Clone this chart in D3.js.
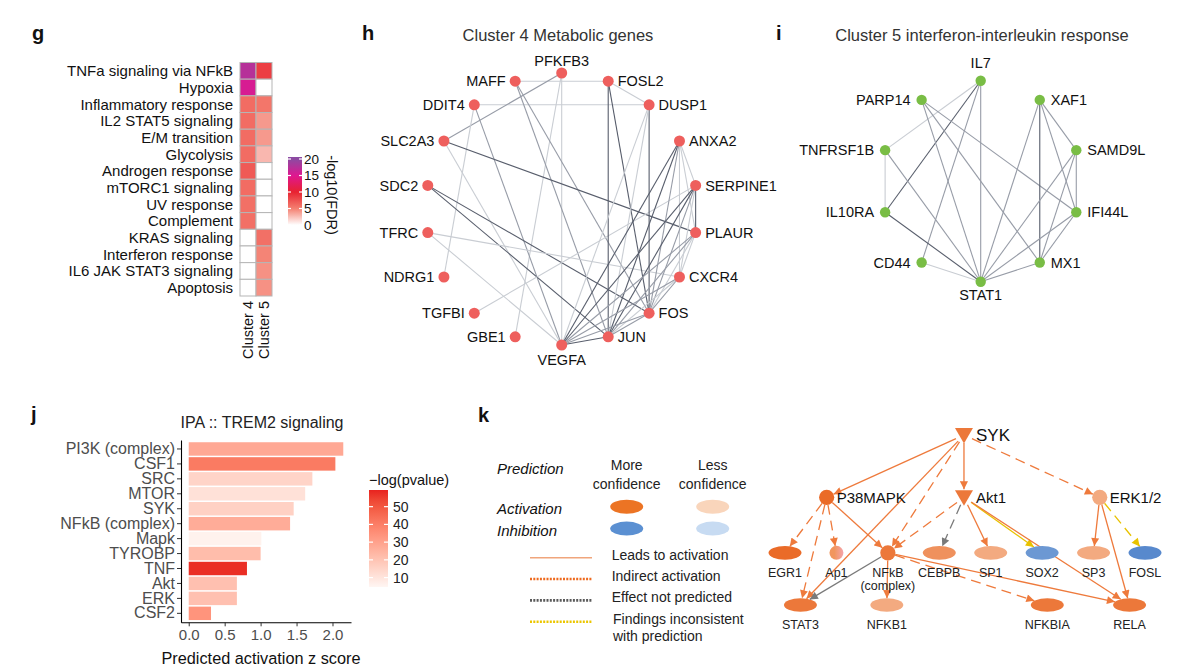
<!DOCTYPE html>
<html>
<head>
<meta charset="utf-8">
<script src="https://cdn.jsdelivr.net/npm/d3@7"></script>
<style>
  body { margin: 0; background: #ffffff; }
  svg text { font-family: "Liberation Sans", Arial, Helvetica, sans-serif; }
</style>
</head>
<body>
<div id="figure"></div>
<script>
// ---------------- data ----------------
// panel g: hallmark enrichment
var pathways = ["TNFa signaling via NFkB", "Hypoxia", "Inflammatory response", "IL2 STAT5 signaling",
  "E/M transition", "Glycolysis", "Androgen response", "mTORC1 signaling", "UV response", "Complement",
  "KRAS signaling", "Interferon response", "IL6 JAK STAT3 signaling", "Apoptosis"];
var clusters = ["Cluster 4", "Cluster 5"];
var fdrCluster4 = [17.5, 15.5, 6, 6, 6, 6, 7, 6, 5.8, 5.8, 0, 0, 0, 0];
var fdrCluster5 = [8.5, 0, 5.5, 4, 4, 2.8, 0, 0, 0, 0, 5.8, 4.8, 4.3, 4.3];
var fdrTicks = [0, 5, 10, 15, 20];

// panel h: cluster 4 network (clockwise from top)
var metabolicGenes = ["PFKFB3", "FOSL2", "DUSP1", "ANXA2", "SERPINE1", "PLAUR", "CXCR4", "FOS", "JUN",
  "VEGFA", "GBE1", "TGFBI", "NDRG1", "TFRC", "SDC2", "SLC2A3", "DDIT4", "MAFF"];
var metabolicEdges = [
  ["MAFF", "FOSL2", 1], ["DDIT4", "DUSP1", 1], ["FOSL2", "DUSP1", 1], ["PFKFB3", "SLC2A3", 2],
  ["PFKFB3", "VEGFA", 1], ["PFKFB3", "GBE1", 1], ["MAFF", "JUN", 2], ["MAFF", "FOS", 2],
  ["DDIT4", "NDRG1", 1], ["DDIT4", "VEGFA", 2], ["SLC2A3", "PLAUR", 3], ["SLC2A3", "VEGFA", 1],
  ["SDC2", "FOS", 3], ["SDC2", "JUN", 3], ["TFRC", "CXCR4", 1], ["TFRC", "VEGFA", 1],
  ["TGFBI", "SERPINE1", 1], ["FOSL2", "JUN", 3], ["FOSL2", "FOS", 3], ["DUSP1", "FOS", 3],
  ["DUSP1", "VEGFA", 1], ["DUSP1", "JUN", 1], ["ANXA2", "SERPINE1", 1], ["ANXA2", "PLAUR", 1],
  ["ANXA2", "CXCR4", 1], ["ANXA2", "JUN", 3], ["ANXA2", "VEGFA", 3], ["ANXA2", "FOS", 2],
  ["SERPINE1", "PLAUR", 3], ["SERPINE1", "CXCR4", 1], ["SERPINE1", "FOS", 2], ["SERPINE1", "JUN", 3],
  ["SERPINE1", "VEGFA", 3], ["PLAUR", "CXCR4", 1], ["PLAUR", "FOS", 1], ["PLAUR", "JUN", 2],
  ["PLAUR", "VEGFA", 2], ["CXCR4", "FOS", 2], ["CXCR4", "JUN", 1], ["CXCR4", "VEGFA", 2],
  ["FOS", "JUN", 2], ["FOS", "VEGFA", 2], ["JUN", "VEGFA", 3]
];

// panel i: cluster 5 network (clockwise from top)
var immuneGenes = ["IL7", "XAF1", "SAMD9L", "IFI44L", "MX1", "STAT1", "CD44", "IL10RA", "TNFRSF1B", "PARP14"];
var immuneEdges = [
  ["IL7", "TNFRSF1B", 1], ["IL7", "IL10RA", 3], ["IL7", "CD44", 2], ["IL7", "STAT1", 2],
  ["PARP14", "STAT1", 2], ["PARP14", "MX1", 2], ["PARP14", "IFI44L", 2], ["TNFRSF1B", "IL10RA", 1],
  ["TNFRSF1B", "STAT1", 2], ["IL10RA", "STAT1", 3], ["CD44", "STAT1", 1], ["XAF1", "STAT1", 2],
  ["XAF1", "MX1", 3], ["XAF1", "SAMD9L", 2], ["XAF1", "IFI44L", 2], ["SAMD9L", "STAT1", 2],
  ["SAMD9L", "MX1", 2], ["SAMD9L", "IFI44L", 2], ["IFI44L", "STAT1", 2], ["IFI44L", "MX1", 2],
  ["MX1", "STAT1", 2]
];

// panel j: IPA upstream regulators
var regulators = ["PI3K (complex)", "CSF1", "SRC", "MTOR", "SYK", "NFkB (complex)", "Mapk", "TYROBP",
  "TNF", "Akt", "ERK", "CSF2"];
var zScores = [2.15, 2.04, 1.72, 1.62, 1.46, 1.41, 1.01, 1.0, 0.81, 0.67, 0.67, 0.31];
var logP = [28, 41, 15, 11, 16, 27, 6, 22, 58, 21, 21, 34];
var zTicks = [0, 0.5, 1, 1.5, 2];
var logPTicks = [10, 20, 30, 40, 50];

// panel k: legend and SYK pathway
var legendCols = ["More confidence", "Less confidence"];
var legendRows = ["Activation", "Inhibition"];
var edgeTypes = ["Leads to activation", "Indirect activation", "Effect not predicted",
  "Findings inconsistent with prediction"];
var pathwayNodes = ["SYK", "P38MAPK", "Akt1", "ERK1/2", "EGR1", "Ap1", "NFkB (complex)", "CEBPB",
  "SP1", "SOX2", "SP3", "FOSL", "STAT3", "NFKB1", "NFKBIA", "RELA"];
var pathwayShape = ["triangle", "circle", "triangle", "circle", "ellipse", "circle", "circle", "ellipse",
  "ellipse", "ellipse", "ellipse", "ellipse", "ellipse", "ellipse", "ellipse", "ellipse"];
// signed prediction strength: >0 activation, <0 inhibition
var pathwayScore = [0.85, 0.95, 0.85, 0.45, 0.95, 0.5, 0.85, 0.65, 0.45, -0.75, 0.45, -0.9, 0.85, 0.45, 0.85, 0.85];
var pathwayLevel = [0, 1.1, 1.1, 1.1, 2.08, 2.08, 2.08, 2.08, 2.08, 2.08, 2.08, 2.08, 3, 3, 3, 3];
var pathwaySlot = [3.48, 0.81, 3.48, 6.12, 0, 1, 2, 3, 4, 5, 6, 7, 0.3, 1.98, 5.1, 6.7];
var pathwayEdges = [
  ["SYK", "P38MAPK", "activation", false], ["SYK", "STAT3", "activation", false],
  ["SYK", "NFkB (complex)", "activation", true], ["SYK", "Akt1", "activation", false],
  ["SYK", "ERK1/2", "activation", true], ["P38MAPK", "EGR1", "activation", true],
  ["P38MAPK", "Ap1", "activation", true], ["P38MAPK", "STAT3", "activation", true],
  ["P38MAPK", "NFkB (complex)", "activation", false], ["Akt1", "NFkB (complex)", "activation", true],
  ["Akt1", "CEBPB", "unpredicted", true], ["Akt1", "SP1", "activation", false],
  ["Akt1", "SOX2", "inconsistent", false], ["Akt1", "RELA", "activation", false],
  ["ERK1/2", "SP3", "activation", false], ["ERK1/2", "RELA", "activation", false],
  ["ERK1/2", "FOSL", "inconsistent", true], ["NFkB (complex)", "STAT3", "unpredicted", false],
  ["NFkB (complex)", "NFKB1", "activation", false], ["NFkB (complex)", "NFKBIA", "activation", true],
  ["NFkB (complex)", "RELA", "activation", false]
];

// ---------------- svg ----------------
var svgWidth = 1200;
var svgHeight = 671;

var svg = d3.select("#figure")
  .append("svg")
  .attr("width", svgWidth)
  .attr("height", svgHeight);

var defs = svg.append("defs");

// panel letters
var letters = [["g", 32, 40], ["h", 362, 40], ["i", 776, 40], ["j", 31, 421], ["k", 478, 422]];
svg.selectAll("text.letter")
  .data(letters)
  .enter()
  .append("text")
  .attr("class", "letter")
  .attr("x", d => d[1])
  .attr("y", d => d[2])
  .attr("font-size", 20)
  .attr("font-weight", "bold")
  .attr("fill", "#111")
  .text(d => d[0]);

// ---------------- panel g ----------------
var gPanel = svg.append("g");
var gx = d3.scaleBand().domain(clusters).range([240, 272]);
var gy = d3.scaleBand().domain(pathways).range([62.5, 296]);
var fdrColor = d3.scaleLinear()
  .domain(fdrTicks)
  .range(["#ffffff", "#f47f70", "#e82230", "#df1790", "#8c4aa2"])
  .clamp(true);

var cells = [];
pathways.forEach(function (p, i) {
  cells.push({ pathway: p, cluster: clusters[0], value: fdrCluster4[i] });
  cells.push({ pathway: p, cluster: clusters[1], value: fdrCluster5[i] });
});

gPanel.selectAll("rect.cell")
  .data(cells)
  .enter()
  .append("rect")
  .attr("x", d => gx(d.cluster))
  .attr("y", d => gy(d.pathway))
  .attr("width", gx.bandwidth())
  .attr("height", gy.bandwidth())
  .attr("fill", d => fdrColor(d.value))
  .attr("stroke", "#b5b5b5")
  .attr("stroke-width", 1);

gPanel.selectAll("text.row")
  .data(pathways)
  .enter()
  .append("text")
  .attr("x", 233)
  .attr("y", d => gy(d) + gy.bandwidth() / 2)
  .attr("dy", "0.36em")
  .attr("text-anchor", "end")
  .attr("font-size", 15)
  .attr("fill", "#111")
  .text(d => d);

gPanel.selectAll("text.col")
  .data(clusters)
  .enter()
  .append("text")
  .attr("transform", d => `translate(${gx(d) + gx.bandwidth() / 2}, 301) rotate(-90)`)
  .attr("dy", "0.36em")
  .attr("text-anchor", "end")
  .attr("font-size", 14.5)
  .attr("fill", "#111")
  .text(d => d);

// colour bar
var cbY = d3.scaleLinear().domain([0, 20]).range([225, 159]);
var cbGrad = defs.append("linearGradient")
  .attr("id", "fdrGrad")
  .attr("gradientUnits", "userSpaceOnUse")
  .attr("x1", 0).attr("x2", 0)
  .attr("y1", cbY(0)).attr("y2", cbY(20));
cbGrad.selectAll("stop")
  .data(d3.range(0, 20.01, 1))
  .enter()
  .append("stop")
  .attr("offset", d => d / 20)
  .attr("stop-color", d => fdrColor(d));

gPanel.append("rect")
  .attr("x", 288).attr("y", cbY(20) - 2)
  .attr("width", 14).attr("height", cbY(0) - cbY(20) + 4)
  .attr("fill", "url(#fdrGrad)");

fdrTicks.forEach(function (t) {
  gPanel.append("line").attr("x1", 288).attr("x2", 291).attr("y1", cbY(t)).attr("y2", cbY(t))
    .attr("stroke", "#fff").attr("stroke-width", 1.2);
  gPanel.append("line").attr("x1", 299).attr("x2", 302).attr("y1", cbY(t)).attr("y2", cbY(t))
    .attr("stroke", "#fff").attr("stroke-width", 1.2);
});

gPanel.selectAll("text.cb")
  .data(fdrTicks)
  .enter()
  .append("text")
  .attr("x", 304)
  .attr("y", d => cbY(d))
  .attr("dy", "0.36em")
  .attr("font-size", 13.5)
  .attr("fill", "#111")
  .text(d => d);

gPanel.append("text")
  .attr("transform", "translate(332, 195) rotate(90)")
  .attr("dy", "0.36em")
  .attr("text-anchor", "middle")
  .attr("font-size", 14.5)
  .attr("fill", "#111")
  .text("-log10(FDR)");

// ---------------- panels h and i: circular networks ----------------
var edgeShade = { 1: "#c9cdd3", 2: "#979ca7", 3: "#585e6c" };

function drawNetwork(genes, edges, cx, cy, radius, nodeColor, nodeR, sideOff, topOff, bottomOff) {
  var angle = d3.scaleLinear().domain([0, genes.length]).range([-Math.PI / 2, 1.5 * Math.PI]);
  var pos = {};
  genes.forEach(function (g, i) {
    var a = angle(i);
    pos[g] = { x: cx + radius * Math.cos(a), y: cy + radius * Math.sin(a), c: Math.cos(a), s: Math.sin(a) };
  });

  var net = svg.append("g");

  net.selectAll("line")
    .data(edges)
    .enter()
    .append("line")
    .attr("x1", d => pos[d[0]].x)
    .attr("y1", d => pos[d[0]].y)
    .attr("x2", d => pos[d[1]].x)
    .attr("y2", d => pos[d[1]].y)
    .attr("stroke", d => edgeShade[d[2]])
    .attr("stroke-width", 1.1);

  net.selectAll("circle")
    .data(genes)
    .enter()
    .append("circle")
    .attr("cx", d => pos[d].x)
    .attr("cy", d => pos[d].y)
    .attr("r", nodeR)
    .attr("fill", nodeColor);

  net.selectAll("text")
    .data(genes)
    .enter()
    .append("text")
    .attr("x", function (d) {
      var p = pos[d];
      if (p.c > 0.05) return p.x + sideOff;
      if (p.c < -0.05) return p.x - sideOff;
      return p.x;
    })
    .attr("y", function (d) {
      var p = pos[d];
      if (Math.abs(p.c) > 0.05) return p.y;
      return p.s < 0 ? p.y - topOff : p.y + bottomOff;
    })
    .attr("dy", "0.36em")
    .attr("text-anchor", function (d) {
      var p = pos[d];
      if (p.c > 0.05) return "start";
      if (p.c < -0.05) return "end";
      return "middle";
    })
    .attr("font-size", 14.5)
    .attr("fill", "#111")
    .text(d => d);
}

svg.append("text")
  .attr("x", 558).attr("y", 35).attr("dy", "0.36em")
  .attr("text-anchor", "middle").attr("font-size", 16.5).attr("fill", "#333")
  .text("Cluster 4 Metabolic genes");
drawNetwork(metabolicGenes, metabolicEdges, 561.7, 209, 136, "#ee5f5d", 5.5, 9.5, 12.5, 14.5);

svg.append("text")
  .attr("x", 982).attr("y", 35).attr("dy", "0.36em")
  .attr("text-anchor", "middle").attr("font-size", 16.5).attr("fill", "#333")
  .text("Cluster 5 interferon-interleukin response");
drawNetwork(immuneGenes, immuneEdges, 980.7, 181.2, 100.5, "#79bd45", 5.2, 11, 18, 13.5);

// ---------------- panel j: bar chart ----------------
var jPanel = svg.append("g");
var jx = d3.scaleLinear().domain([-0.1075, 2.2575]).range([181, 351]);
var jy = d3.scaleBand().domain(regulators).range([440, 622.3]).paddingInner(0.1).paddingOuter(0.15);
var jColor = d3.scaleLinear().domain([4.7, 59.4]).range(["#fff6f3", "#e8231f"])
  .interpolate(d3.interpolateLab);

jPanel.append("text")
  .attr("x", 262).attr("y", 422).attr("dy", "0.36em")
  .attr("text-anchor", "middle").attr("font-size", 16).attr("fill", "#222")
  .text("IPA :: TREM2 signaling");

jPanel.selectAll("rect.bar")
  .data(regulators)
  .enter()
  .append("rect")
  .attr("x", jx(0))
  .attr("y", d => jy(d))
  .attr("width", (d, i) => jx(zScores[i]) - jx(0))
  .attr("height", jy.bandwidth())
  .attr("fill", (d, i) => jColor(logP[i]));

var leftAxis = d3.axisLeft(jy).tickSizeInner(4).tickSizeOuter(0).tickPadding(2);
var bottomAxis = d3.axisBottom(jx).tickValues(zTicks).tickFormat(d3.format(".1f"))
  .tickSizeInner(4).tickSizeOuter(0).tickPadding(3);

var yAxisG = jPanel.append("g")
  .attr("transform", `translate(${jx.range()[0]}, 0)`)
  .call(leftAxis);
yAxisG.selectAll("text").attr("font-size", 16).attr("fill", "#4d4d4d");

var xAxisG = jPanel.append("g")
  .attr("transform", `translate(0, ${jy.range()[1]})`)
  .call(bottomAxis);
xAxisG.selectAll("text").attr("font-size", 15).attr("fill", "#4d4d4d");

[yAxisG, xAxisG].forEach(function (a) {
  a.select(".domain").attr("stroke", "#000").attr("stroke-width", 1.1);
  a.selectAll(".tick line").attr("stroke", "#333");
});

jPanel.append("text")
  .attr("x", 261).attr("y", 658).attr("dy", "0.36em")
  .attr("text-anchor", "middle").attr("font-size", 16.3).attr("fill", "#111")
  .text("Predicted activation z score");

// legend
var legY = d3.scaleLinear().domain([4.7, 59.4]).range([587, 490]);
var pGrad = defs.append("linearGradient")
  .attr("id", "pGrad")
  .attr("gradientUnits", "userSpaceOnUse")
  .attr("x1", 0).attr("x2", 0)
  .attr("y1", legY(4.7)).attr("y2", legY(59.4));
pGrad.selectAll("stop")
  .data(d3.range(0, 1.001, 0.1))
  .enter()
  .append("stop")
  .attr("offset", d => d)
  .attr("stop-color", d => jColor(4.7 + d * (59.4 - 4.7)));

jPanel.append("rect")
  .attr("x", 369).attr("y", legY(59.4))
  .attr("width", 19).attr("height", legY(4.7) - legY(59.4))
  .attr("fill", "url(#pGrad)");

logPTicks.forEach(function (t) {
  jPanel.append("line").attr("x1", 369).attr("x2", 373).attr("y1", legY(t)).attr("y2", legY(t))
    .attr("stroke", "#fff").attr("stroke-width", 1.2);
  jPanel.append("line").attr("x1", 384).attr("x2", 388).attr("y1", legY(t)).attr("y2", legY(t))
    .attr("stroke", "#fff").attr("stroke-width", 1.2);
});

jPanel.selectAll("text.leg")
  .data(logPTicks)
  .enter()
  .append("text")
  .attr("x", 393)
  .attr("y", d => legY(d))
  .attr("dy", "0.36em")
  .attr("font-size", 14)
  .attr("fill", "#222")
  .text(d => d);

jPanel.append("text")
  .attr("x", 369).attr("y", 480).attr("dy", "0.36em")
  .attr("font-size", 14.5).attr("fill", "#111")
  .text("\u2212log(pvalue)");

// ---------------- panel k: legend ----------------
var kPanel = svg.append("g");
var predColor = function (score) {
  if (score >= 0) return d3.interpolateRgb("#fbe2d0", "#e9651f")(score);
  return d3.interpolateRgb("#d2e2f5", "#4a7fc8")(-score);
};
var legendFill = [["#ec7424", "#f9d5bb"], ["#5b90d2", "#c7dbf2"]];

var legX = d3.scalePoint().domain(legendCols).range([626.7, 712.7]);
var legRowY = d3.scalePoint().domain(legendRows).range([506.7, 528.6]);

kPanel.append("text")
  .attr("x", 497).attr("y", 469).attr("dy", "0.36em")
  .attr("font-size", 15).attr("font-style", "italic").attr("fill", "#111")
  .text("Prediction");

legendCols.forEach(function (c) {
  var words = c.split(" ");
  kPanel.append("text").attr("x", legX(c)).attr("y", 465).attr("dy", "0.36em")
    .attr("text-anchor", "middle").attr("font-size", 14).attr("fill", "#222").text(words[0]);
  kPanel.append("text").attr("x", legX(c)).attr("y", 483.5).attr("dy", "0.36em")
    .attr("text-anchor", "middle").attr("font-size", 14).attr("fill", "#222").text(words[1]);
});

legendRows.forEach(function (r, ri) {
  kPanel.append("text").attr("x", 497).attr("y", legRowY(r) + 1.5).attr("dy", "0.36em")
    .attr("font-size", 15).attr("font-style", "italic").attr("fill", "#111").text(r);
  legendCols.forEach(function (c, ci) {
    kPanel.append("ellipse")
      .attr("cx", legX(c)).attr("cy", legRowY(r))
      .attr("rx", 16.5).attr("ry", 7)
      .attr("fill", legendFill[ri][ci]);
  });
});

var edgeY = d3.scalePoint().domain(edgeTypes).range([557.7, 621.7]);
var edgeStyle = [
  { color: "#f0a57c", dash: null, width: 1.6 },
  { color: "#ee6a1e", dash: "2,1.3", width: 2.6 },
  { color: "#5a5a5a", dash: "2,1.3", width: 2.6 },
  { color: "#ecc600", dash: "2,1.3", width: 2.6 }
];
edgeTypes.forEach(function (e, i) {
  kPanel.append("line")
    .attr("x1", 530).attr("x2", 592)
    .attr("y1", edgeY(e)).attr("y2", edgeY(e))
    .attr("stroke", edgeStyle[i].color)
    .attr("stroke-width", edgeStyle[i].width)
    .attr("stroke-dasharray", edgeStyle[i].dash);
  var lines = i === 3 ? ["Findings inconsistent", "with prediction"] : [e];
  lines.forEach(function (l, li) {
    kPanel.append("text")
      .attr("x", i === 3 ? 613 : 611.7)
      .attr("y", edgeY(e) - 3 + li * 17.7)
      .attr("dy", "0.36em")
      .attr("font-size", 14).attr("fill", "#222")
      .text(l);
  });
});

// ---------------- panel k: pathway ----------------
var kx = d3.scaleLinear().domain([0, 7]).range([785, 1145]);
var ky = d3.scaleLinear().domain([0, 3]).range([435, 605]);

var nodes = {};
pathwayNodes.forEach(function (n, i) {
  var shape = pathwayShape[i];
  var size = shape === "ellipse" ? [16.5, 6.8] : shape === "circle" ? [7.6, 7.6] : [9, 8];
  if (n === "Ap1") size = [7, 7];
  nodes[n] = {
    name: n, x: kx(pathwaySlot[i]), y: ky(pathwayLevel[i]), level: pathwayLevel[i],
    shape: shape, rx: size[0], ry: size[1], score: pathwayScore[i]
  };
});

var arrowColor = { activation: "#ee7a3c", unpredicted: "#7a7a7a", inconsistent: "#e8c200" };
Object.keys(arrowColor).forEach(function (k) {
  defs.append("marker")
    .attr("id", "arrow-" + k)
    .attr("viewBox", "0 0 10 10")
    .attr("refX", 10).attr("refY", 5)
    .attr("markerWidth", 9).attr("markerHeight", 8)
    .attr("markerUnits", "userSpaceOnUse")
    .attr("orient", "auto")
    .append("path")
    .attr("d", "M0,0 L10,5 L0,10 Z")
    .attr("fill", arrowColor[k]);
});

// Ap1 has a split orange / pink fill
var apGrad = defs.append("linearGradient").attr("id", "apGrad").attr("x1", 0).attr("x2", 1);
apGrad.append("stop").attr("offset", 0.35).attr("stop-color", "#f1965e");
apGrad.append("stop").attr("offset", 1).attr("stop-color", "#f5a4ac");

function boundary(n, dx, dy) {
  var len = Math.sqrt(dx * dx + dy * dy);
  var s = 1 / Math.sqrt((dx / n.rx) * (dx / n.rx) + (dy / n.ry) * (dy / n.ry));
  return Math.min(s * len, len) / len;
}

var kEdges = kPanel.append("g");
pathwayEdges.forEach(function (e) {
  var s = nodes[e[0]], t = nodes[e[1]];
  var dx = t.x - s.x, dy = t.y - s.y;
  var fs = boundary(s, dx, dy);
  var ft = boundary(t, -dx, -dy);
  kEdges.append("line")
    .attr("x1", s.x + dx * fs)
    .attr("y1", s.y + dy * fs)
    .attr("x2", t.x - dx * ft)
    .attr("y2", t.y - dy * ft)
    .attr("stroke", arrowColor[e[2]])
    .attr("stroke-width", 1.3)
    .attr("stroke-dasharray", e[3] ? "10,6" : null)
    .attr("marker-end", "url(#arrow-" + e[2] + ")");
});

var kNodes = kPanel.append("g");
pathwayNodes.forEach(function (name) {
  var n = nodes[name];
  var fill = name === "Ap1" ? "url(#apGrad)" : predColor(n.score);
  if (n.shape === "triangle") {
    kNodes.append("path")
      .attr("d", `M${n.x - 9},${n.y - 7} L${n.x + 9},${n.y - 7} L${n.x},${n.y + 8.5} Z`)
      .attr("fill", fill);
  } else {
    kNodes.append("ellipse")
      .attr("cx", n.x).attr("cy", n.y)
      .attr("rx", n.rx).attr("ry", n.ry)
      .attr("fill", fill);
  }
  if (n.level < 2) {
    kNodes.append("text")
      .attr("x", n.x + (n.shape === "triangle" ? 12 : 10))
      .attr("y", n.y).attr("dy", "0.36em")
      .attr("font-size", n.level === 0 ? 17 : 15)
      .attr("fill", "#111")
      .text(name);
  } else {
    var parts = name === "NFkB (complex)" ? ["NFkB", "(complex)"] : [name];
    parts.forEach(function (p, pi) {
      kNodes.append("text")
        .attr("x", n.x).attr("y", n.y + 19.5 + pi * 13.5).attr("dy", "0.36em")
        .attr("text-anchor", "middle")
        .attr("font-size", 12.5)
        .attr("fill", "#222")
        .text(p);
    });
  }
});
</script>
</body>
</html>
